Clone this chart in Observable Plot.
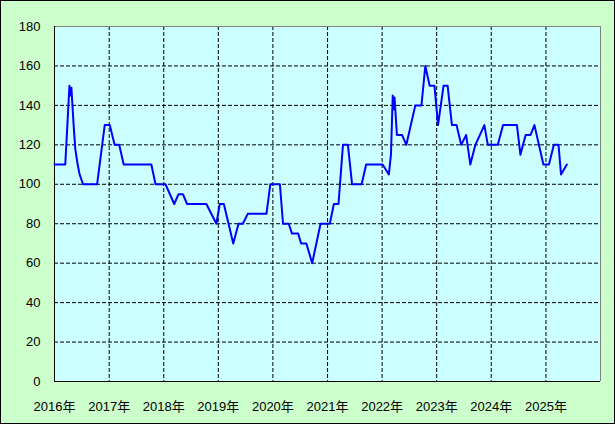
<!DOCTYPE html>
<html><head><meta charset="utf-8">
<script src="https://cdn.jsdelivr.net/npm/d3@7"></script>
<script src="https://cdn.jsdelivr.net/npm/@observablehq/plot@0.6"></script>
<style>
html,body{margin:0;padding:0;background:#fff}
</style></head><body><div id="chart"></div>
<script>
const dates = [
 "2016-01-01","2016-03-13","2016-04-10","2016-04-17","2016-04-23","2016-05-08","2016-05-19","2016-06-04","2016-06-17","2016-07-10",
 "2016-10-12","2016-12-02","2017-01-05","2017-02-06","2017-03-09","2017-04-08","2017-10-10","2017-11-07","2018-01-13","2018-03-12",
 "2018-04-10","2018-05-09","2018-06-06","2018-10-13","2018-12-19","2019-01-11","2019-02-07","2019-04-11","2019-05-16","2019-06-14",
 "2019-07-17","2019-11-19","2019-12-15","2020-02-17","2020-03-09","2020-04-16","2020-05-08","2020-06-18","2020-07-08","2020-08-12",
 "2020-09-20","2020-11-15","2021-01-16","2021-02-12","2021-03-15","2021-04-14","2021-05-17","2021-06-14","2021-08-17","2021-09-16",
 "2022-01-04","2022-02-15","2022-03-01","2022-03-13","2022-03-18","2022-03-25","2022-04-10","2022-05-14","2022-06-12","2022-08-11",
 "2022-09-21","2022-10-17","2022-11-15","2022-12-17","2023-01-10","2023-02-16","2023-03-15","2023-04-13","2023-05-14","2023-06-14",
 "2023-07-17","2023-08-14","2023-09-17","2023-11-16","2023-12-09","2024-02-14","2024-03-20","2024-06-21","2024-07-14","2024-08-18",
 "2024-09-20","2024-10-16","2024-12-15","2025-01-21","2025-02-23","2025-03-26","2025-04-12","2025-05-21"
];
const values = [
 110,110,150,145,149,130,118,110,105,100,
 100,130,130,120,120,110,110,100,100,90,
 95,95,90,90,80,90,90,70,80,80,
 85,85,100,100,80,80,75,75,70,70,
 60,80,80,90,90,120,120,100,100,110,
 110,105,115,145,138,144,125,125,120,140,
 140,160,150,150,130,150,150,130,130,120,
 125,110,120,130,120,120,130,130,115,125,
 125,130,110,110,120,120,105,110
];
const yearTicks = [2016,2017,2018,2019,2020,2021,2022,2023,2024,2025];
const yTicks = [0,20,40,60,80,100,120,140,160,180];

const yr = y => new Date(Date.UTC(y,0,1));
const data = dates.map((d,i)=>({date:new Date(d+"T00:00:00Z"), value:values[i]}));

const chart = Plot.plot({
  width:615, height:424,
  marginLeft:54, marginRight:15, marginTop:26, marginBottom:43,
  style:{background:"#ccffcc", fontFamily:"'Liberation Sans', Arial, 'Noto Sans CJK JP', sans-serif", fontSize:"13px", color:"#000", outline:"1px solid #000", outlineOffset:"-1px"},
  x:{type:"utc", domain:[yr(2016), yr(2026)]},
  y:{domain:[0,180]},
  marks:[
    Plot.frame({fill:"#ccffff", stroke:"none"}),
    Plot.gridX(yearTicks.slice(1).map(yr), {stroke:"#000", strokeOpacity:1, strokeDasharray:"4,2"}),
    Plot.gridY(yTicks.filter(v=>v>0 && v<180), {stroke:"#000", strokeOpacity:1, strokeDasharray:"4,2"}),
    Plot.ruleY([180], {stroke:"#808080"}),
    Plot.ruleX([yr(2026)], {stroke:"#808080"}),
    Plot.ruleX([yr(2016)], {stroke:"#000"}),
    Plot.ruleY([0], {stroke:"#000"}),
    Plot.axisX(yearTicks.map(yr), {tickSize:0, tickPadding:20, tickFormat:d=>d.getUTCFullYear()+"年", label:null}),
    Plot.axisY(yTicks, {tickSize:0, tickPadding:14, label:null}),
    Plot.line(data, {x:"date", y:"value", stroke:"#0000ff", strokeWidth:2})
  ]
});
document.getElementById("chart").append(chart);
</script></body></html>
